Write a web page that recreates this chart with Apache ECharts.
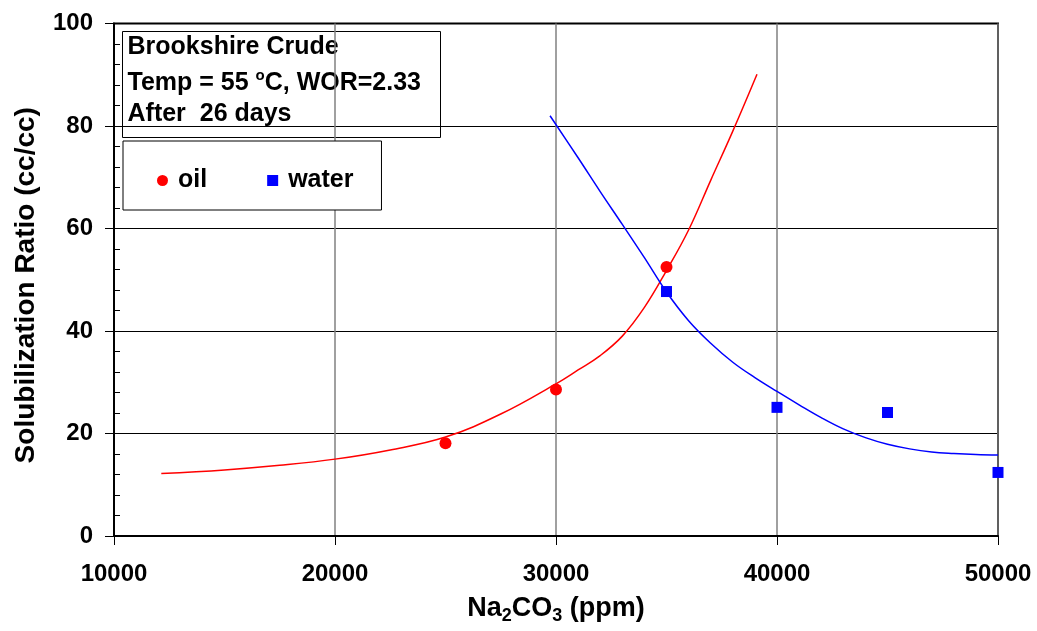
<!DOCTYPE html>
<html>
<head>
<meta charset="utf-8">
<script src="https://cdn.jsdelivr.net/npm/echarts@6/dist/echarts.min.js"></script>
<style>html,body{margin:0;padding:0;background:#fff}#c{width:1037px;height:631px}</style>
</head>
<body>
<div id="c"></div>
<script>
// Measured data points
const oilPoints = [[25000, 18.1], [30000, 28.6], [35000, 52.5]];
const waterPoints = [[35000, 47.7], [40000, 25.1], [45000, 24.1], [50000, 12.4]];
// Fitted curves
const oilCurve = [[12140, 12.2], [15000, 12.9], [17500, 13.8], [20000, 15.0], [22500, 16.8], [25000, 19.3], [27500, 23.8], [30000, 29.7], [31000, 32.4], [32000, 35.2], [33000, 39.0], [34000, 44.6], [35000, 51.8], [36000, 59.7], [37000, 69.4], [38000, 79.0], [39095, 90.1]];
const waterCurve = [[29730, 82.0], [31000, 73.8], [32000, 67.2], [33000, 60.8], [34000, 54.3], [35000, 47.6], [36000, 42.0], [37000, 37.6], [38000, 33.9], [39000, 30.9], [40000, 28.2], [41000, 25.6], [42000, 23.1], [43000, 20.9], [44000, 19.2], [45000, 17.9], [46000, 17.0], [47000, 16.4], [48000, 16.1], [49000, 15.9], [50000, 15.8]];
const xTicks = [10000, 20000, 30000, 40000, 50000];
const yTicks = [0, 20, 40, 60, 80, 100];
const infoLines = ['Brookshire Crude', 'Temp = 55 °C, WOR=2.33', 'After  26 days'];

const FONT = '"Liberation Sans", Arial, sans-serif';
const chart = echarts.init(document.getElementById('c'));
chart.setOption({
  animation: false,
  backgroundColor: '#fff',
  textStyle: { fontFamily: FONT },
  grid: { left: 114, right: 39, top: 23.5, bottom: 95, show: true, borderColor: '#000', borderWidth: 2 },
  xAxis: {
    type: 'value', min: xTicks[0], max: xTicks[xTicks.length - 1], interval: 10000,
    name: '{n|Na}{s|2}{n|CO}{s|3}{n| (ppm)}', nameLocation: 'middle', nameGap: 57,
    nameTextStyle: { rich: {
      n: { fontSize: 27, fontWeight: 'bold', color: '#000', fontFamily: FONT, lineHeight: 32 },
      s: { fontSize: 18, fontWeight: 'bold', color: '#000', fontFamily: FONT, lineHeight: 18, verticalAlign: 'bottom' }
    } },
    axisLine: { lineStyle: { color: '#000', width: 2 } },
    axisTick: { show: true, length: 9, lineStyle: { color: '#000', width: 1 } },
    axisLabel: { margin: 26, fontSize: 24, fontWeight: 'bold', color: '#000', fontFamily: FONT, formatter: v => String(v) },
    splitLine: { show: true, lineStyle: { color: '#808080', width: 1.5 } }
  },
  yAxis: [{
    type: 'value', min: yTicks[0], max: yTicks[yTicks.length - 1], interval: 20,
    name: 'Solubilization Ratio (cc/cc)', nameLocation: 'middle', nameGap: 74,
    nameTextStyle: { fontSize: 28, fontWeight: 'bold', color: '#000', fontFamily: FONT, padding: [0, 11, 0, 0] },
    axisLine: { lineStyle: { color: '#000', width: 2 } },
    axisTick: { show: true, length: 9, lineStyle: { color: '#000', width: 1 } },
    axisLabel: { margin: 21, fontSize: 24, fontWeight: 'bold', color: '#000', fontFamily: FONT },
    splitLine: { show: true, lineStyle: { color: '#000', width: 1 } }
  }, {
    type: 'value', min: yTicks[0], max: yTicks[yTicks.length - 1], interval: 20, position: 'left',
    axisLine: { show: false }, axisLabel: { show: false }, splitLine: { show: false },
    axisTick: { show: true, inside: true, length: 7, lineStyle: { color: '#000', width: 1 } },
    minorTick: { show: true, splitNumber: 5, length: 6, lineStyle: { color: '#000', width: 1 } }
  }],
  legend: {
    data: [{ name: 'oil', icon: 'circle' }, { name: 'water', icon: 'rect' }],
    left: 123, top: 141, orient: 'horizontal',
    padding: [27, 28, 17, 34], itemGap: 60, itemWidth: 11, itemHeight: 11,
    backgroundColor: '#fff', borderColor: '#000', borderWidth: 1,
    textStyle: { fontSize: 25, fontWeight: 'bold', color: '#000', fontFamily: FONT, padding: [0, 0, 0, 5] }
  },
  series: [
    { name: 'oilFit', type: 'line', data: oilCurve, smooth: 0.4, showSymbol: false, symbol: 'none',
      lineStyle: { color: '#ff0000', width: 1.5 }, z: 3 },
    { name: 'waterFit', type: 'line', data: waterCurve, smooth: 0.4, showSymbol: false, symbol: 'none',
      lineStyle: { color: '#0000ff', width: 1.5 }, z: 3 },
    { name: 'oil', type: 'scatter', data: oilPoints, symbol: 'circle', symbolSize: 12,
      itemStyle: { color: '#ff0000', opacity: 1 }, z: 4 },
    { name: 'water', type: 'scatter', data: waterPoints, symbol: 'rect', symbolSize: 11,
      itemStyle: { color: '#0000ff', opacity: 1 }, z: 4 }
  ],
  graphic: [{
    type: 'group', left: 122, top: 31, z: 100,
    children: [
      { type: 'rect', shape: { x: 0, y: 0, width: 318, height: 106 }, style: { fill: '#fff', stroke: '#000', lineWidth: 1 } },
      { type: 'text', x: 5, y: 16, style: { text: infoLines[0], font: 'bold 25px ' + FONT, fill: '#000', verticalAlign: 'middle' } },
      { type: 'text', x: 5, y: 52, style: {
          text: '{n|Temp = 55 }{o|o}{n|C, WOR=2.33}', verticalAlign: 'middle',
          rich: { n: { font: 'bold 25px ' + FONT, fill: '#000', lineHeight: 30 },
                  o: { font: 'bold 15px ' + FONT, fill: '#000', lineHeight: 15, verticalAlign: 'top' } } } },
      { type: 'text', x: 5, y: 83, style: { text: infoLines[2], font: 'bold 25px ' + FONT, fill: '#000', verticalAlign: 'middle' } }
    ]
  }]
});
</script>
</body>
</html>
